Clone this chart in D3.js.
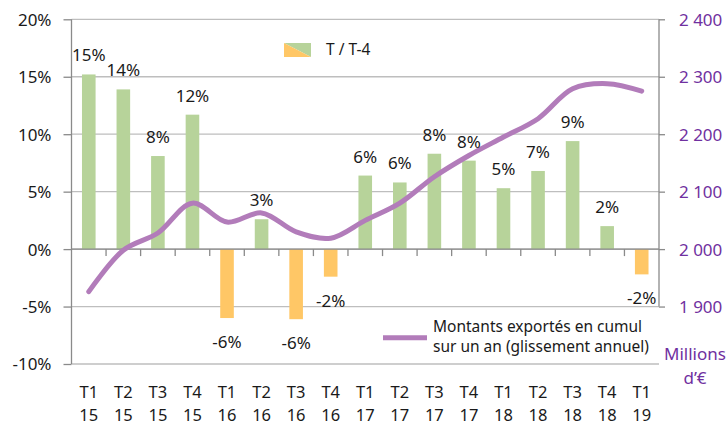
<!DOCTYPE html>
<html>
<head>
<meta charset="utf-8">
<script src="https://cdn.jsdelivr.net/npm/d3@7"></script>
<style>
  body { margin: 0; background: #fff; }
  svg { display: block; font-family: "Noto Sans", sans-serif; }
</style>
</head>
<body>
<svg class="chart" width="727" height="425"></svg>
<script>
// quarters (T = trimestre) and years
var quarters = ["T1","T2","T3","T4","T1","T2","T3","T4","T1","T2","T3","T4","T1","T2","T3","T4","T1"];
var years    = ["15","15","15","15","16","16","16","16","17","17","17","17","18","18","18","18","19"];

// T / T-4 growth, %
var growth = [15.2, 13.9, 8.1, 11.7, -6.0, 2.6, -6.1, -2.4, 6.4, 5.8, 8.3, 7.7, 5.3, 6.8, 9.4, 2.0, -2.2];

// exports, rolling 12 months, millions of euros
var cumul = [1926, 1998, 2028, 2080, 2047, 2063, 2030, 2019, 2050, 2080, 2126, 2163, 2195, 2227, 2279, 2288, 2275];

var leftTicks = [-10, -5, 0, 5, 10, 15, 20];
var rightTicks = [1900, 2000, 2100, 2200, 2300, 2400];

var svg = d3.select("svg.chart");

var pLeft = 71.5, pRight = 659, pTop = 19.3, pBottom = 364;
var purple = "#7030A0", lineCol = "#B27CBA", green = "#B7D39A", orange = "#FFC766";
var gridCol = "#BEBEBE", axisCol = "#8A8A8A";

var idx = d3.range(quarters.length);
var x = d3.scaleBand().domain(idx).range([pLeft, pRight]);
var yL = d3.scaleLinear().domain([-10, 20]).range([pBottom, pTop]);
var yR = d3.scaleLinear().domain([1900, 2400]).range([yL(-5), pTop]);

// gridlines
svg.append("g").selectAll("line")
  .data(leftTicks)
  .enter().append("line")
  .attr("x1", pLeft).attr("x2", pRight)
  .attr("y1", function(d) { return yL(d); })
  .attr("y2", function(d) { return yL(d); })
  .style("stroke", gridCol)
  .style("stroke-width", 1.3);

// left axis
var gl = svg.append("g").attr("transform", "translate(" + pLeft + ",0)")
  .call(d3.axisLeft(yL).tickValues(leftTicks).tickSize(8).tickPadding(12)
    .tickFormat(function(d) { return d + "%"; }));
gl.selectAll("path, line").style("stroke", axisCol).style("stroke-width", 1.3);
gl.select("path").attr("d", "M0," + pTop + "V" + pBottom);
gl.selectAll("text").style("font-size", "17px").style("fill", "#1a1a1a")
  .style("font-family", "Noto Sans").attr("dy", "0.35em");

// right axis
var gr = svg.append("g").attr("transform", "translate(" + pRight + ",0)")
  .call(d3.axisRight(yR).tickValues(rightTicks).tickSize(6).tickPadding(14)
    .tickFormat(function(d) { return d3.format(",")(d).replace(",", " "); }));
gr.selectAll("path, line").style("stroke", axisCol).style("stroke-width", 1.3);
gr.select("path").attr("d", "M0," + pTop + "V" + yR(1900));
gr.selectAll("text").style("font-size", "17px").style("fill", purple)
  .style("font-family", "Noto Sans").attr("dy", "0.35em");

// bars
svg.append("g").selectAll("rect")
  .data(growth)
  .enter().append("rect")
  .attr("x", function(d, i) { return x(i) + x.bandwidth() / 2 - 6.8; })
  .attr("width", 13.6)
  .attr("y", function(d) { return yL(Math.max(0, d)); })
  .attr("height", function(d) { return Math.abs(yL(d) - yL(0)); })
  .style("fill", function(d) { return d < 0 ? orange : green; });

// category axis at 0
var y0 = yL(0);
svg.append("line")
  .attr("x1", pLeft).attr("x2", pRight).attr("y1", y0).attr("y2", y0)
  .style("stroke", axisCol).style("stroke-width", 1.3);
svg.append("g").selectAll("line")
  .data(idx.slice(1))
  .enter().append("line")
  .attr("x1", function(d) { return x(d); })
  .attr("x2", function(d) { return x(d); })
  .attr("y1", y0).attr("y2", y0 + 7)
  .style("stroke", axisCol).style("stroke-width", 1.3);

var cat = svg.append("g").selectAll("text")
  .data(idx)
  .enter().append("text")
  .attr("text-anchor", "middle")
  .style("font-size", "16.5px")
  .style("fill", "#1a1a1a");
cat.append("tspan")
  .attr("x", function(d) { return x(d) + x.bandwidth() / 2; })
  .attr("y", 392).attr("dy", "0.35em")
  .text(function(d) { return quarters[d]; });
cat.append("tspan")
  .attr("x", function(d) { return x(d) + x.bandwidth() / 2; })
  .attr("y", 415).attr("dy", "0.35em")
  .text(function(d) { return years[d]; });

// line
var line = d3.line()
  .curve(d3.curveCatmullRom.alpha(0.5))
  .x(function(d, i) { return x(i) + x.bandwidth() / 2; })
  .y(function(d) { return yR(d); });

svg.append("path")
  .datum(cumul)
  .attr("d", line)
  .style("fill", "none")
  .style("stroke", lineCol)
  .style("stroke-width", 5)
  .style("stroke-linecap", "round");

// data labels
svg.append("g").selectAll("text")
  .data(growth)
  .enter().append("text")
  .attr("x", function(d, i) { return x(i) + x.bandwidth() / 2; })
  .attr("y", function(d) { return d < 0 ? yL(d) + 24 : yL(d) - 19; })
  .attr("dy", "0.35em")
  .attr("text-anchor", "middle")
  .style("font-size", "17px")
  .style("fill", "#1a1a1a")
  .text(function(d) { return Math.round(d) + "%"; });

// legend: bars
var lg = svg.append("g");
lg.append("polygon").attr("points", "284,43 311,43 311,57").style("fill", green);
lg.append("polygon").attr("points", "284,43 311,57 284,57").style("fill", orange);
lg.append("text").attr("x", 326).attr("y", 50).attr("dy", "0.35em")
  .style("font-size", "15.5px").style("fill", "#1a1a1a").text("T / T-4");

// legend: line
lg.append("line").attr("x1", 383).attr("x2", 427).attr("y1", 337.7).attr("y2", 337.7)
  .style("stroke", lineCol).style("stroke-width", 5);
lg.append("text").attr("x", 433).attr("y", 326.7).attr("dy", "0.35em")
  .style("font-size", "15.5px").style("fill", "#1a1a1a").text("Montants exportés en cumul");
lg.append("text").attr("x", 433).attr("y", 346.7).attr("dy", "0.35em")
  .style("font-size", "15.5px").style("fill", "#1a1a1a").text("sur un an (glissement annuel)");

// right axis unit
svg.append("text").attr("x", 695).attr("y", 354).attr("dy", "0.35em")
  .attr("text-anchor", "middle").style("font-size", "17px").style("fill", purple).text("Millions");
svg.append("text").attr("x", 695).attr("y", 378).attr("dy", "0.35em")
  .attr("text-anchor", "middle").style("font-size", "17px").style("fill", purple).text("d’€");
</script>
</body>
</html>
